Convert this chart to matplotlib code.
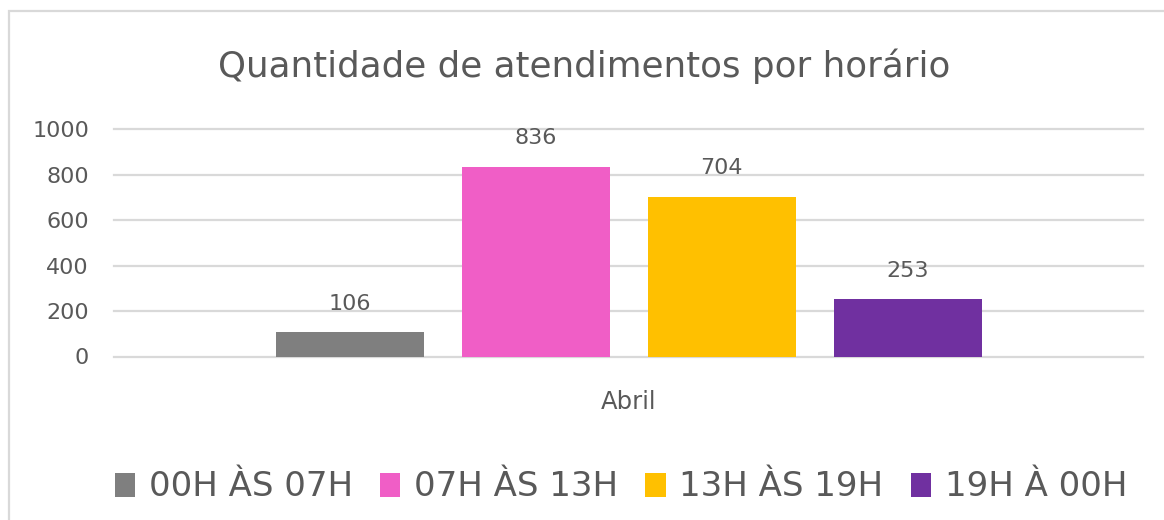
import matplotlib
matplotlib.use("Agg")
import matplotlib.pyplot as plt
from matplotlib.patches import Rectangle, Patch

categories = ["Abril"]
series_names = ["00H ÀS 07H", "07H ÀS 13H", "13H ÀS 19H", "19H À 00H"]
series_values = [106, 836, 704, 253]
series_colors = ["#7f7f7f", "#f05ec6", "#ffc000", "#7030a0"]
y_ticks = [0, 200, 400, 600, 800, 1000]
title = "Quantidade de atendimentos por horário"

plt.rcParams['font.family'] = ['DejaVu Sans']
text_color = "#595959"
grid_color = "#d9d9d9"

W, H = 1164, 520
fig = plt.figure(figsize=(W / 100, H / 100), dpi=100)
fig.patch.set_facecolor("white")

ax_left, ax_right = 114 / W, 1143 / W
ax_bottom, ax_top = 1 - 356.5 / H, 1 - 129.3 / H
ax = fig.add_axes([ax_left, ax_bottom, ax_right - ax_left, ax_top - ax_bottom])

bar_w = 148 / 1029
step = 186 / 1029
n = len(series_values)
for i, (name, val, col) in enumerate(zip(series_names, series_values, series_colors)):
    xpos = (i - (n - 1) / 2) * step
    ax.bar([xpos], [val], width=bar_w, color=col, label=name, zorder=3)
    ax.annotate(str(val), xy=(xpos, val), xytext=(0, 20.5), textcoords="offset points",
                ha="center", va="center", fontsize=16, color=text_color)

ax.set_xlim(-0.5, 0.5)
ax.set_ylim(0, 1000)
ax.set_yticks(y_ticks)
ax.set_yticklabels([str(t) for t in y_ticks])
ax.set_xticks([0])
ax.set_xticklabels(categories)
ax.tick_params(axis="y", length=0, pad=18, labelsize=16, labelcolor=text_color)
ax.tick_params(axis="x", length=0, pad=24, labelsize=17.5, labelcolor=text_color)
for s in ax.spines.values():
    s.set_visible(False)
ax.yaxis.grid(True, color=grid_color, linewidth=1.6, zorder=0)
ax.set_axisbelow(True)
for gl in ax.get_ygridlines():
    gl.set_clip_on(False)

fig.text(0.5 * (218 + 950) / W, 1 - 66 / H, title, ha="center", va="center",
         fontsize=25.7, color=text_color)

handles = [Patch(facecolor=c, edgecolor="none") for c in series_colors]
leg = fig.legend(handles, series_names, loc="center", bbox_to_anchor=(621 / W, 1 - 487 / H),
                 ncol=4, frameon=False, fontsize=24.5, handlelength=0.6, handleheight=0.7,
                 handletextpad=0.4, columnspacing=0.8, labelcolor=text_color)

border = Rectangle((9 / W, -0.1), 1.0, (1 - 11 / H) + 0.1, transform=fig.transFigure,
                   fill=False, edgecolor=grid_color, linewidth=1.6, clip_on=False)
fig.patches.append(border)

fig.savefig("out.png", dpi=100)
